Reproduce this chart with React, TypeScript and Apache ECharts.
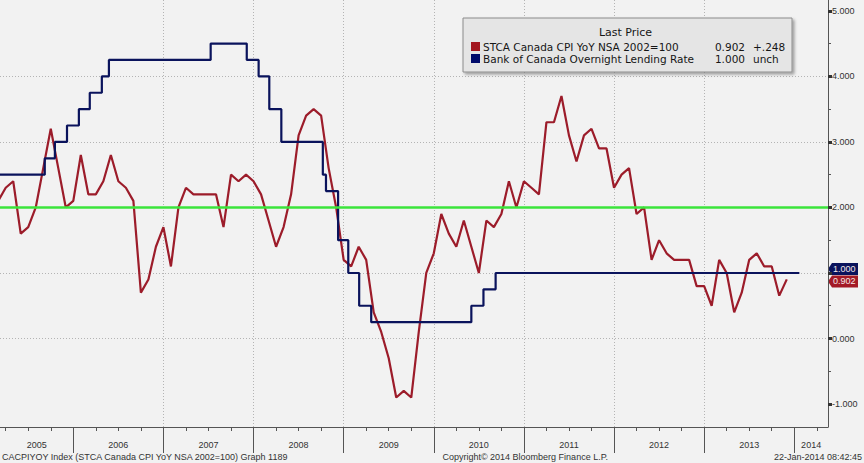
import React, { useEffect, useRef } from 'react';
import * as echarts from 'echarts';

// ---- data ----
const cpiStartYear = 2005; // first value = Jan 2005, monthly, plotted at month end
const cpiValues = [
  1.9, 2.1, 2.3, 2.4, 1.6, 1.7, 2.0, 2.6, 3.2, 2.6, 2.0, 2.1,
  2.8, 2.2, 2.2, 2.4, 2.8, 2.4, 2.3, 2.1, 0.7, 0.9, 1.4, 1.7,
  1.1, 2.0, 2.3, 2.2, 2.2, 2.2, 2.2, 1.7, 2.5, 2.4, 2.5, 2.4,
  2.2, 1.8, 1.4, 1.7, 2.2, 3.1, 3.4, 3.5, 3.4, 2.6, 2.0, 1.2,
  1.1, 1.4, 1.2, 0.4, 0.1, -0.3, -0.9, -0.8, -0.9, 0.1, 1.0, 1.3,
  1.9, 1.6, 1.4, 1.8, 1.4, 1.0, 1.8, 1.7, 1.9, 2.4, 2.0, 2.4,
  2.3, 2.2, 3.3, 3.3, 3.7, 3.1, 2.7, 3.1, 3.2, 2.9, 2.9, 2.3,
  2.5, 2.6, 1.9, 2.0, 1.2, 1.5, 1.3, 1.2, 1.2, 1.2, 0.8, 0.8,
  0.5, 1.2, 1.0, 0.4, 0.7, 1.2, 1.3, 1.1, 1.1, 0.654, 0.902,
];
const rateDates = [
  '2005-01-01', '2005-09-07', '2005-10-18', '2005-12-06', '2006-01-24', '2006-03-07',
  '2006-04-25', '2006-05-24', '2007-07-10', '2007-12-04', '2008-01-22', '2008-03-04',
  '2008-04-22', '2008-10-08', '2008-10-21', '2008-12-09', '2009-01-20', '2009-03-03',
  '2009-04-21', '2010-06-01', '2010-07-20', '2010-09-08', '2014-01-22',
];
const rateValues = [
  2.5, 2.75, 3.0, 3.25, 3.5, 3.75,
  4.0, 4.25, 4.5, 4.25, 4.0, 3.5,
  3.0, 2.5, 2.25, 1.5, 1.0, 0.5,
  0.25, 0.5, 0.75, 1.0, 1.0,
];
const yearLabels = ['2005', '2006', '2007', '2008', '2009', '2010', '2011', '2012', '2013', '2014'];
const yTickValues = [-1, 0, 1, 2, 3, 4, 5];
const yMinorValues = [-0.5, 0.5, 1.5, 2.5, 3.5, 4.5];
const targetLevel = 2.0;

const legendTitle = 'Last Price';
const cpiName = 'STCA Canada CPI YoY NSA 2002=100';
const rateName = 'Bank of Canada Overnight Lending Rate';
const cpiLast = '0.902';
const cpiChange = '+.248';
const rateLast = '1.000';
const rateChange = 'unch';
const footerLeft = 'CACPIYOY Index (STCA Canada CPI YoY NSA 2002=100) Graph 1189';
const footerMid = 'Copyright\u00A9 2014 Bloomberg Finance L.P.';
const footerRight = '22-Jan-2014 08:42:45';

// ---- layout / style ----
const X_MIN = 2.24;
const X_MAX = 112.49;
const Y_MIN = -1.35;
const Y_MAX = 5.165;
const RED = '#9c1c2a';
const NAVY = '#0a135c';
const GREEN = '#3be43b';
const BG = '#f2f2f2';
const FONT = '"Liberation Sans", Arial, sans-serif';
const LFONT = '"DejaVu Sans", Verdana, sans-serif';

function monthPos(d: string): number {
  const [y, m, day] = d.split('-').map(Number);
  const dim = new Date(y, m, 0).getDate();
  return (y - cpiStartYear) * 12 + (m - 1) + (day - 1) / dim;
}

export default function App() {
  const ref = useRef<HTMLDivElement>(null);

  useEffect(() => {
    if (!ref.current) return;
    const chart = echarts.init(ref.current, undefined, { renderer: 'svg' });

    const cpiData = cpiValues.map((v, i) => [i + 1, v]);
    const rateData = rateDates.map((d, i) => [monthPos(d), rateValues[i]]);
    const lastRate = rateValues[rateValues.length - 1];
    const lastCpi = cpiValues[cpiValues.length - 1];

    const yearTicks: number[] = [];
    for (let i = 1; i < yearLabels.length; i++) yearTicks.push(i * 12);
    const quarterTicks: number[] = [];
    for (let q = 0; q <= X_MAX; q += 3) if (q > X_MIN && q % 12 !== 0) quarterTicks.push(q);
    const labelPos = yearLabels.map((_, i) => {
      const lo = Math.max(X_MIN, i * 12);
      const hi = Math.min(X_MAX, (i + 1) * 12);
      return (lo + hi) / 2;
    });
    // axis labels hidden where the last-value tags cover them
    const yLabelValues = yTickValues.filter(
      (v) => Math.abs(v - lastRate) > 0.2 && Math.abs(v - lastCpi) > 0.2,
    );

    const grid = { left: 0, right: 36, top: 0, bottom: 36 };
    const dotted = { color: '#b4b4b4', width: 1, type: [1, 2] as any };

    chart.setOption({
      animation: false,
      backgroundColor: BG,
      grid,
      xAxis: [
        {
          type: 'value', min: X_MIN, max: X_MAX, minInterval: 12, maxInterval: 12,
          axisLine: { show: true, onZero: false, lineStyle: { color: '#555', width: 1 } },
          axisTick: { show: true, customValues: yearTicks, length: 26, lineStyle: { color: '#555', width: 1 } },
          axisLabel: {
            customValues: labelPos, margin: 13, fontSize: 9, fontFamily: FONT, color: '#333',
            formatter: (v: number) => yearLabels[Math.min(yearLabels.length - 1, Math.floor(v / 12))],
          },
          splitLine: { show: true, showMinLine: false, showMaxLine: false, lineStyle: dotted },
        },
        {
          type: 'value', min: X_MIN, max: X_MAX, position: 'bottom',
          axisLine: { show: false, onZero: false },
          axisTick: { show: true, customValues: quarterTicks, length: 4, lineStyle: { color: '#555', width: 1 } },
          axisLabel: { show: false },
          splitLine: { show: false },
        },
      ],
      yAxis: [
        {
          type: 'value', position: 'right', min: Y_MIN, max: Y_MAX, minInterval: 1, maxInterval: 1,
          axisLine: { show: true, lineStyle: { color: '#555', width: 1 } },
          axisTick: { show: true, customValues: yTickValues, length: 4, lineStyle: { color: '#333', width: 3 } },
          axisLabel: {
            customValues: yLabelValues, margin: 4, fontSize: 9, fontFamily: FONT, color: '#333',
            formatter: (v: number) => v.toFixed(3),
          },
          splitLine: { show: true, showMinLine: false, showMaxLine: false, lineStyle: dotted },
        },
        {
          type: 'value', position: 'right', min: Y_MIN, max: Y_MAX,
          axisLine: { show: false },
          axisTick: { show: true, customValues: yMinorValues, length: 3, lineStyle: { color: '#555', width: 1 } },
          axisLabel: { show: false },
          splitLine: { show: false },
        },
      ],
      series: [
        {
          type: 'line', name: cpiName, data: cpiData, xAxisIndex: 0, yAxisIndex: 0,
          showSymbol: false, symbol: 'none', clip: true,
          lineStyle: { color: RED, width: 2.2 },
          markLine: {
            silent: true, symbol: 'none', label: { show: false },
            lineStyle: { color: GREEN, width: 2.5, type: 'solid' },
            data: [{ yAxis: targetLevel }],
          },
          z: 3,
        },
        {
          type: 'line', name: rateName, data: rateData, xAxisIndex: 0, yAxisIndex: 0,
          showSymbol: false, symbol: 'none', step: 'end', clip: true,
          lineStyle: { color: NAVY, width: 2.2 },
          z: 4,
        },
      ],
    });

    const xr = chart.convertToPixel({ xAxisIndex: 0 }, X_MAX) as number;
    const yRate = chart.convertToPixel({ yAxisIndex: 0 }, lastRate) as number;
    const yCpi = chart.convertToPixel({ yAxisIndex: 0 }, lastCpi) as number;

    const tag = (yc: number, h: number, color: string, text: string) => ({
      type: 'group',
      children: [
        {
          type: 'polygon',
          shape: { points: [[xr, yc], [xr + 4, yc - h], [xr + 30, yc - h], [xr + 30, yc + h], [xr + 4, yc + h]] },
          style: { fill: color },
        },
        {
          type: 'text', x: xr + 5, y: yc,
          style: { text, fill: '#f4e8e8', font: `9px ${FONT}`, textVerticalAlign: 'middle', verticalAlign: 'middle' },
        },
      ],
    });

    const lx = 463, ly = 18, lw = 329, lh = 54;
    const txt = (x: number, y: number, text: string, align = 'left', font = `10.5px ${LFONT}`, fill = '#161616') => ({
      type: 'text', x, y,
      style: { text, fill, font, textAlign: align, align, textVerticalAlign: 'middle', verticalAlign: 'middle' },
    });
    const r1 = ly + 28.5;
    const r2 = ly + 40.5;

    chart.setOption({
      graphic: [
        {
          type: 'rect', shape: { x: lx, y: ly, width: lw, height: lh },
          style: {
            fill: '#e5e5e5', stroke: '#8c8c8c', lineWidth: 1,
            shadowBlur: 3, shadowColor: 'rgba(0,0,0,0.35)', shadowOffsetX: 2, shadowOffsetY: 2,
          },
          z: 10,
        },
        { ...txt(lx + lw / 2 - 2, ly + 14, legendTitle, 'center', `11px ${LFONT}`), z: 11 },
        { type: 'rect', shape: { x: lx + 8, y: r1 - 4.5, width: 9, height: 9 }, style: { fill: '#a3161f' }, z: 11 },
        { ...txt(lx + 20, r1, cpiName), z: 11 },
        { ...txt(lx + 282, r1, cpiLast, 'right'), z: 11 },
        { ...txt(lx + 290, r1, cpiChange), z: 11 },
        { type: 'rect', shape: { x: lx + 8, y: r2 - 4.5, width: 9, height: 9 }, style: { fill: '#000a6a' }, z: 11 },
        { ...txt(lx + 20, r2, rateName), z: 11 },
        { ...txt(lx + 282, r2, rateLast, 'right'), z: 11 },
        { ...txt(lx + 290, r2, rateChange), z: 11 },
        { ...tag(yRate - 4, 6, NAVY, rateLast), z: 12 },
        { ...tag(yCpi + 2, 6, '#a31a26', cpiLast), z: 13 },
        { ...txt(2, 457, footerLeft, 'left', `9px ${FONT}`, '#333'), z: 11 },
        { ...txt(608, 457, footerMid, 'right', `9px ${FONT}`, '#333'), z: 11 },
        { ...txt(862, 457, footerRight, 'right', `9px ${FONT}`, '#333'), z: 11 },
      ],
    });

    return () => chart.dispose();
  }, []);

  return (
    <div
      ref={ref}
      style={{ position: 'fixed', left: 0, top: 0, width: 864, height: 463 }}
    />
  );
}
